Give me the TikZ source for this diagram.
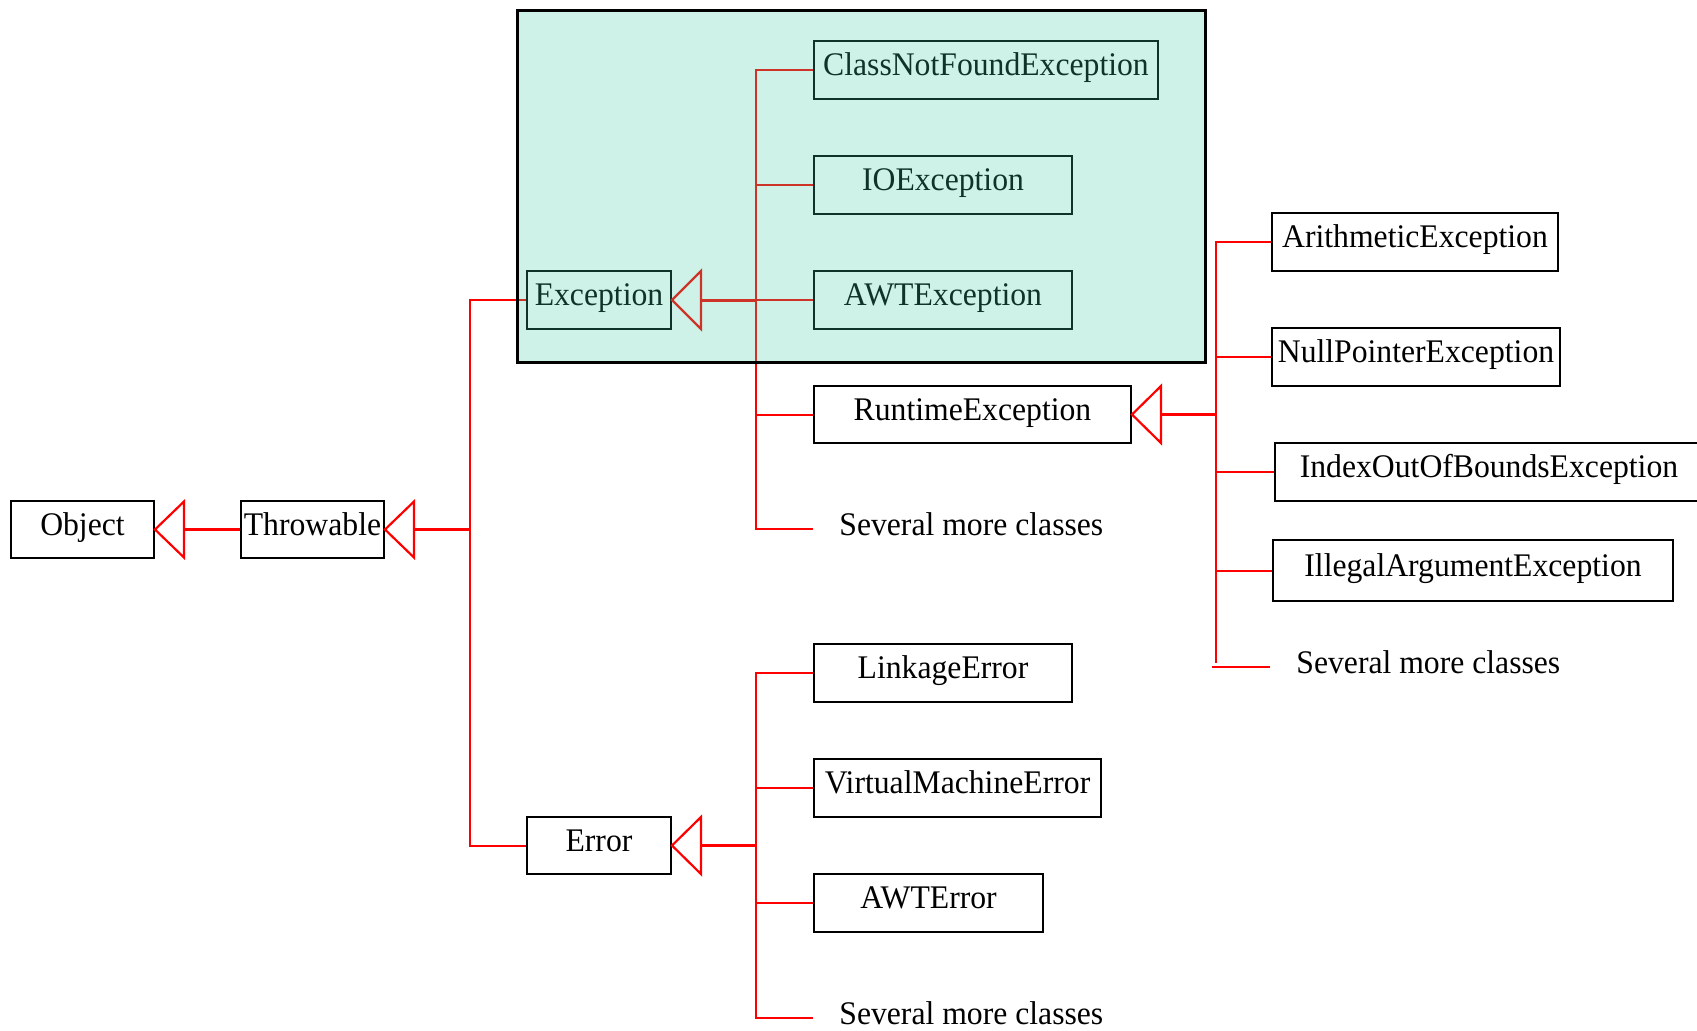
\documentclass[tikz,border=0pt]{standalone}
\usepackage{fontspec}
\setmainfont{Liberation Serif}[FakeStretch=0.96]
\usetikzlibrary{fit,calc}
\definecolor{link}{RGB}{255,0,0}
\definecolor{tint}{RGB}{60,205,160}
\begin{document}
\begin{tikzpicture}[x=0.5pt,y=-0.5pt,
  font=\fontsize{16.5}{20}\selectfont,
  cls/.style={draw=black, line width=1pt, inner sep=0pt,
    text height=11pt, text depth=5.5pt},
  wh/.style 2 args={minimum width=#1*0.5pt, minimum height=#2*0.5pt},
  more/.style={anchor=base west, inner sep=0pt},
  branch/.style={draw=link, line width=1pt},
  stem/.style={draw=link, line width=1.5pt},
  tri/.style={draw=link, line width=1.1pt, line join=miter, fill=white}]
\clip (0,0) rectangle (1697,1030);
\fill[white] (0,0) rectangle (1697,1030);

% class boxes
\node[cls, wh={143}{57}] (obj)   at (82.5,529.5)  {Object};
\node[cls, wh={143}{57}] (thr)   at (312.5,529.5) {Throwable};
\node[cls, wh={144}{58}] (exc)   at (599,300)     {Exception};
\node[cls, wh={144}{57}] (err)   at (599,845.5)   {Error};
\node[cls, wh={344}{58}] (cnf)   at (986,70)      {ClassNotFoundException};
\node[cls, wh={258}{58}] (io)    at (943,185)     {IOException};
\node[cls, wh={258}{58}] (awtx)  at (943,300)     {AWTException};
\node[cls, wh={317}{57}] (rt)    at (972.5,414.5) {RuntimeException};
\node[more] (more1) at (839,535) {Several more classes};
\node[cls, wh={258}{58}] (link)  at (943,673)     {LinkageError};
\node[cls, wh={287}{58}] (vm)    at (957.5,788)   {VirtualMachineError};
\node[cls, wh={229}{58}] (awte)  at (928.5,903)   {AWTError};
\node[more] (more2) at (839,1024) {Several more classes};
\node[cls, wh={286}{58}] (arith) at (1415,242)    {ArithmeticException};
\node[cls, wh={288}{58}] (npe)   at (1416,357)    {NullPointerException};
\node[cls, wh={428}{58}] (ioob)  at (1489,472)    {IndexOutOfBoundsException};
\node[cls, wh={400}{61}] (iae)   at (1473,570.5)  {IllegalArgumentException};
\node[more] (more3) at (1296,673) {Several more classes};

% junction points and free branch ends
\coordinate (thrJ) at (470,529.5);
\coordinate (excJ) at (756,300);
\coordinate (excEnd) at (813,529);
\coordinate (errJ) at (756,845.5);
\coordinate (errEnd) at (813,1018);
\coordinate (rtJ) at (1216,414.5);
\coordinate (rtBot) at (1216,663);
\coordinate (rtTail) at (1212,667);
\coordinate (rtEnd) at (1270,667);

% Object <- Throwable
\draw[stem] ($(obj.east)+(29,0)$) -- (thr.west);
\draw[tri] (obj.east) -- ++(29,-28) -- ++(0,56) -- cycle;

% Throwable <- Exception, Error
\draw[stem] ($(thr.east)+(29,0)$) -- (thrJ);
\draw[branch] (exc.west) -| (thrJ) |- (err.west);
\draw[tri] (thr.east) -- ++(29,-28) -- ++(0,56) -- cycle;

% Exception subclasses
\draw[stem] ($(exc.east)+(29,0)$) -- (excJ);
\draw[branch] (cnf.west) -| (excEnd -| excJ) -- (excEnd);
\foreach \n in {io,awtx,rt} \draw[branch] (\n.west) -- (\n.west -| excJ);
\draw[tri] (exc.east) -- ++(29,-29) -- ++(0,58) -- cycle;

% Error subclasses
\draw[stem] ($(err.east)+(29,0)$) -- (errJ);
\draw[branch] (link.west) -| (errEnd -| errJ) -- (errEnd);
\foreach \n in {vm,awte} \draw[branch] (\n.west) -- (\n.west -| errJ);
\draw[tri] (err.east) -- ++(29,-28.5) -- ++(0,57) -- cycle;

% RuntimeException subclasses
\draw[stem] ($(rt.east)+(29,0)$) -- (rtJ);
\draw[branch] (arith.west) -| (rtBot);
\foreach \n in {npe,ioob,iae} \draw[branch] (\n.west) -- (\n.west -| rtJ);
\draw[branch] (rtTail) -- (rtEnd);
\draw[tri] (rt.east) -- ++(29,-28.5) -- ++(0,57) -- cycle;

% checked-exception group, tinted over its contents
\node[draw=black, line width=1.5pt, fill=tint, fill opacity=0.25,
  inner sep=0pt, fit={(517,10) (1205,362)}] (checked) {};
\end{tikzpicture}
\end{document}
